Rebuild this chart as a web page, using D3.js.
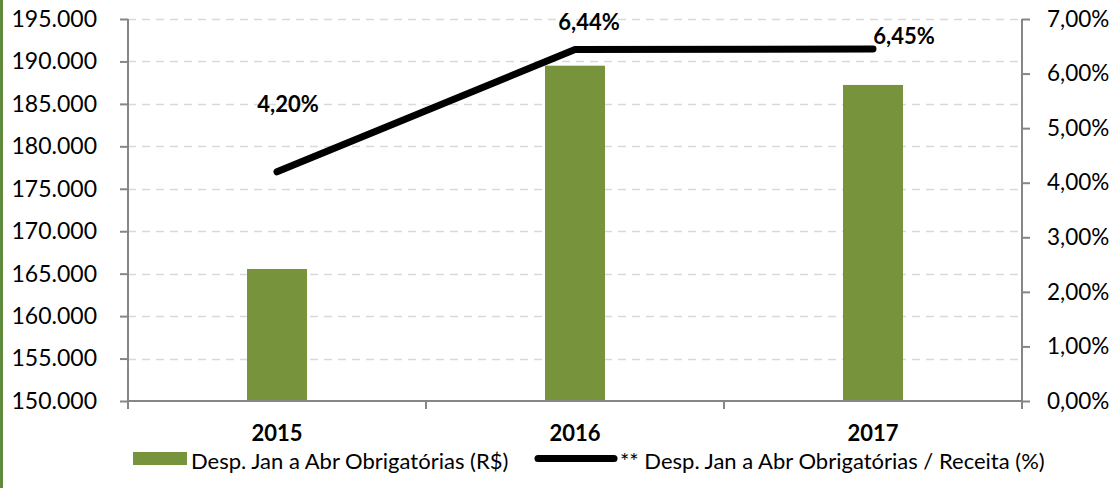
<!DOCTYPE html>
<html>
<head>
<meta charset="utf-8">
<script src="https://cdn.jsdelivr.net/npm/d3@7"></script>
<style>
  body { margin: 0; background: #fff; }
  svg text { font-family: Lato, "Open Sans", sans-serif; fill: #000; }
</style>
</head>
<body>
<div class="page"></div>
<script>
var years = ['2015', '2016', '2017'];
var despesas = [165550, 189500, 187230];
var percentuais = [0.0420, 0.0644, 0.0645];
var leftTicks = [150000, 155000, 160000, 165000, 170000, 175000, 180000, 185000, 190000, 195000];
var rightTicks = [0, 0.01, 0.02, 0.03, 0.04, 0.05, 0.06, 0.07];
var legendLabels = ['Desp. Jan a Abr Obrigatórias (R$)', '** Desp. Jan a Abr Obrigatórias / Receita (%)'];

// manual label placement (like in the original sheet)
var labelOffsets = [[11, -68], [14, -28], [31, -14]];

var width = 1118, height = 488;
var plotBox = {left: 128, right: 1022, top: 19, bottom: 401};
var green = '#77933c';

var br = d3.formatLocale({decimal: ',', thousands: '.', grouping: [3], currency: ['R$', '']});
var fmtLeft = br.format(',.0f');
var fmtPct = br.format('.2%');

var svg = d3.select('.page').append('svg')
  .attr('width', width)
  .attr('height', height);

// green strip on the left edge
svg.append('rect')
  .attr('x', 0).attr('y', 0)
  .attr('width', 3).attr('height', height)
  .attr('fill', '#5f8a3c');

var x = d3.scaleBand()
  .domain(years)
  .range([plotBox.left, plotBox.right]);

var yLeft = d3.scaleLinear()
  .domain([150000, 195000])
  .range([plotBox.bottom, plotBox.top]);

var yRight = d3.scaleLinear()
  .domain([0, 0.07])
  .range([plotBox.bottom, plotBox.top]);

// gridlines
svg.append('g')
  .selectAll('line')
  .data(leftTicks.slice(1))
  .enter()
  .append('line')
  .attr('x1', plotBox.left)
  .attr('x2', plotBox.right)
  .attr('y1', function(d) { return Math.round(yLeft(d)) + 0.5; })
  .attr('y2', function(d) { return Math.round(yLeft(d)) + 0.5; })
  .attr('stroke', '#d9d9d9')
  .attr('stroke-width', 1.5)
  .attr('stroke-dasharray', '8,6');

// bars
var barW = 60;
svg.append('g')
  .selectAll('rect')
  .data(despesas)
  .enter()
  .append('rect')
  .attr('x', function(d, i) { return x(years[i]) + x.bandwidth() / 2 - barW / 2; })
  .attr('y', function(d) { return yLeft(d); })
  .attr('width', barW)
  .attr('height', function(d) { return plotBox.bottom - yLeft(d); })
  .attr('fill', green);

// axes
var leftAxis = svg.append('g')
  .attr('transform', 'translate(' + plotBox.left + ',0)')
  .call(d3.axisLeft(yLeft).tickValues(leftTicks).tickSize(8).tickPadding(23).tickFormat(fmtLeft));

var rightAxis = svg.append('g')
  .attr('transform', 'translate(' + plotBox.right + ',0)')
  .call(d3.axisRight(yRight).tickValues(rightTicks).tickSize(8).tickPadding(17).tickFormat(fmtPct));

var xAxis = svg.append('g')
  .attr('transform', 'translate(0,' + plotBox.bottom + ')')
  .call(d3.axisBottom(x).tickSize(0).tickPadding(24));

// category boundary ticks
xAxis.selectAll('.sep')
  .data([plotBox.left].concat(years.map(function(y) { return x(y) + x.bandwidth(); })))
  .enter()
  .append('line')
  .attr('class', 'sep')
  .attr('x1', function(d) { return d; })
  .attr('x2', function(d) { return d; })
  .attr('y1', 0).attr('y2', 8)
  .attr('stroke', '#868686')
  .attr('stroke-width', 2);

[leftAxis, rightAxis, xAxis].forEach(function(g) {
  g.selectAll('.domain').attr('stroke', '#868686').attr('stroke-width', 2);
  g.selectAll('.tick line').attr('stroke', '#868686').attr('stroke-width', 2);
  g.selectAll('text').attr('fill', '#000').style('font-family', 'Lato, sans-serif');
});
leftAxis.selectAll('.tick text').style('font-size', '23px');
rightAxis.selectAll('.tick text').style('font-size', '22.5px');
xAxis.selectAll('.tick text').style('font-size', '22px').style('font-weight', 'bold');
leftAxis.select('.domain').attr('d', 'M0,' + plotBox.top + 'V' + plotBox.bottom);
rightAxis.select('.domain').attr('d', 'M0,' + plotBox.top + 'V' + plotBox.bottom);
xAxis.select('.domain').attr('d', 'M' + plotBox.left + ',0H' + plotBox.right);

// percentage line
var line = d3.line()
  .x(function(d, i) { return x(years[i]) + x.bandwidth() / 2; })
  .y(function(d) { return yRight(d); });

svg.append('path')
  .datum(percentuais)
  .attr('d', line)
  .attr('fill', 'none')
  .attr('stroke', '#000')
  .attr('stroke-width', 7)
  .attr('stroke-linecap', 'round')
  .attr('stroke-linejoin', 'round');

svg.append('g')
  .selectAll('text')
  .data(percentuais)
  .enter()
  .append('text')
  .attr('x', function(d, i) { return x(years[i]) + x.bandwidth() / 2 + labelOffsets[i][0]; })
  .attr('y', function(d, i) { return yRight(d) + labelOffsets[i][1]; })
  .attr('text-anchor', 'middle')
  .attr('dominant-baseline', 'central')
  .style('font-size', '22px')
  .style('font-weight', 'bold')
  .text(function(d) { return fmtPct(d); });

// legend
var legend = svg.append('g');
legend.append('rect')
  .attr('x', 133).attr('y', 452)
  .attr('width', 54).attr('height', 13)
  .attr('fill', green);
legend.append('text')
  .attr('x', 191).attr('y', 460)
  .attr('dominant-baseline', 'central')
  .style('font-size', '22px')
  .text(legendLabels[0]);
legend.append('line')
  .attr('x1', 538).attr('x2', 614)
  .attr('y1', 458.5).attr('y2', 458.5)
  .attr('stroke', '#000')
  .attr('stroke-width', 7)
  .attr('stroke-linecap', 'round');
legend.append('text')
  .attr('x', 620).attr('y', 460)
  .attr('dominant-baseline', 'central')
  .style('font-size', '22px')
  .text(legendLabels[1]);
</script>
</body>
</html>
